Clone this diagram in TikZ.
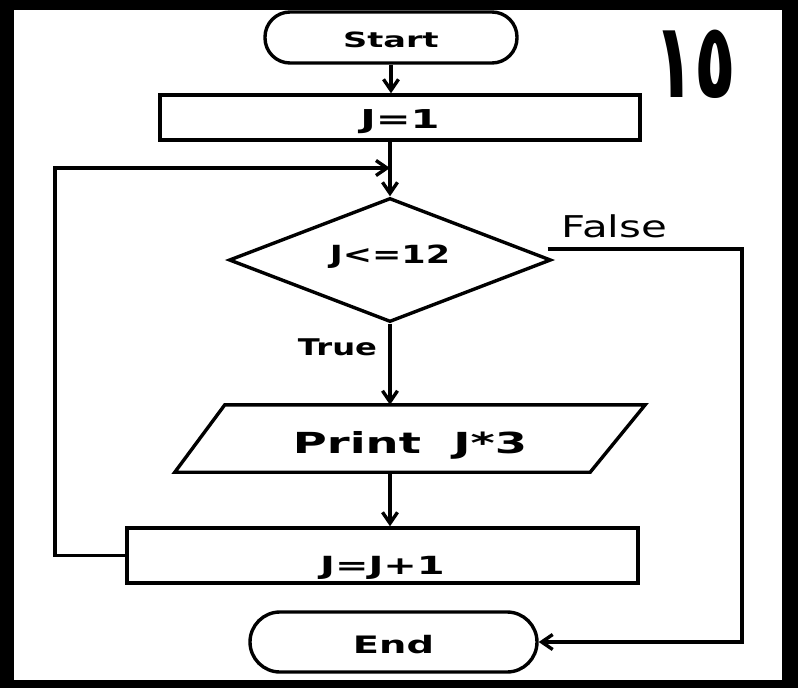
\documentclass[tikz,border=0pt]{standalone}
\usepackage{fontspec}
\usetikzlibrary{shapes.geometric,arrows.meta,positioning}
\newfontfamily\boxfont[FakeStretch=1.6]{DejaVu Sans}
\newfontfamily\tagfont[FakeStretch=1.4]{DejaVu Sans}
\newfontfamily\digitfont[FakeStretch=0.65]{DejaVu Sans}
\newcommand\fsz[1]{\fontsize{#1}{#1}\selectfont}
\tikzset{
  term/.style={draw, line width=3.4pt, rectangle, inner sep=0pt},
  proc/.style={draw, line width=3.4pt, rectangle, inner sep=0pt},
  dec/.style={draw, line width=3.4pt, diamond, aspect=2.6, inner sep=0pt},
  io/.style={rectangle, inner sep=0pt},
  arr/.style={line width=3.4pt, -{Straight Barb[length=11pt,width=15pt]}}
}
\begin{document}
\begin{tikzpicture}[x=1pt,y=-1pt]
\fill (0,0) rectangle (798,688);
\fill[white] (14,10) rectangle (782,680);

\node[term, rounded corners=25pt, minimum width=252pt, text height=35pt, text depth=16pt,
  font=\boxfont\bfseries\fsz{21}] (start) at (391,37.5) {Start};
\node[proc, minimum width=480pt, text height=33pt, text depth=12pt,
  font=\boxfont\bfseries\fsz{26}] (init) at (400,117.5) {J=1};
\node[dec, minimum width=322pt, minimum height=124pt, text height=18pt, text depth=12pt,
  font=\tagfont\bfseries\fsz{25}] (dia) at (390,260) {J<=12};
\node[io, minimum width=470pt, text height=48pt, text depth=19pt,
  font=\boxfont\bfseries\fsz{29}] (prnt) at (410,438.5) {Print\ \ J*3};
\draw[line width=3.4pt, line join=miter] ([xshift=50pt]prnt.north west) -- (prnt.north east)
  -- ([xshift=-55pt]prnt.south east) -- (prnt.south west) -- cycle;
\node[proc, minimum width=511pt, text height=46pt, text depth=9pt,
  font=\boxfont\bfseries\fsz{25}] (upd) at (382.5,555.5) {J=J+1};
\node[term, rounded corners=30pt, minimum width=287pt, text height=41pt, text depth=19pt,
  font=\boxfont\bfseries\fsz{24}] (stop) at (393.5,642) {End};

\node[anchor=base, font=\tagfont\bfseries\fsz{23}] (tru) at (337.5,355) {True};
\node[anchor=base, font=\tagfont\fsz{30}] (fls) at (614.5,237) {False};
\node[anchor=base, font=\digitfont\bfseries\fsz{105}] (num) at (695,97) {١٥};

\coordinate (join) at (390,168);
\coordinate (lp) at (55,555.5);
\coordinate (fc) at (742,642);

\draw[arr] (start) -- (start |- init.north);
\draw[line width=3.4pt] (init.south -| join) -- (join);
\draw[arr] (join) -- (dia.north);
\draw[arr] (upd.west) -- (lp) |- (join);
\draw[arr] (dia.south) -- (dia.south |- prnt.north);
\draw[arr] (prnt.south -| dia.south) -- (upd.north -| dia.south);
\draw[arr] ([xshift=-5pt,yshift=11pt]dia.east) -| (fc) |- (stop.east);
\end{tikzpicture}
\end{document}
